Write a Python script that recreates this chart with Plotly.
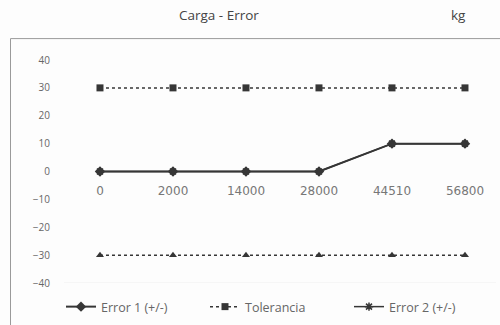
import plotly.graph_objects as go

categories = ["0", "2000", "14000", "28000", "44510", "56800"]
error1 = [0, 0, 0, 0, 10, 10]
tolerancia = [30, 30, 30, 30, 30, 30]
tol_neg = [-30, -30, -30, -30, -30, -30]
error2 = [0, 0, 0, 0, 10, 10]
y_ticks = [40, 30, 20, 10, 0, -10, -20, -30, -40]

LINE = "#363636"
TXT = "#666666"
FONT = "Open Sans, Noto Sans, sans-serif"

fig = go.Figure()
fig.add_trace(go.Scatter(x=categories, y=error1, name="Error 1 (+/-)", mode="lines+markers",
                         line=dict(color=LINE, width=2), marker=dict(symbol="diamond", size=8, color=LINE)))
fig.add_trace(go.Scatter(x=categories, y=tolerancia, name="Tolerancia", mode="lines+markers",
                         line=dict(color=LINE, width=1.5, dash="dot"), marker=dict(symbol="square", size=7, color=LINE)))
fig.add_trace(go.Scatter(x=categories, y=tol_neg, name="-Tolerancia", mode="lines+markers", showlegend=False,
                         line=dict(color=LINE, width=1.5, dash="dot"), marker=dict(symbol="triangle-up", size=7, color=LINE)))
fig.add_trace(go.Scatter(x=categories, y=error2, name="Error 2 (+/-)", mode="lines+markers",
                         line=dict(color=LINE, width=1.5), marker=dict(symbol="asterisk-open", size=7, line=dict(color=LINE, width=1.5))))

fig.update_layout(
    width=500, height=325,
    margin=dict(l=64, r=4, t=60, b=41),
    paper_bgcolor="#fdfdfd", plot_bgcolor="#fdfdfd",
    font=dict(family=FONT, color=TXT, size=9),
    showlegend=True,
    legend=dict(orientation="h", x=(61 - 64) / 432, xanchor="left", y=(284 - 307) / 224, yanchor="middle",
                font=dict(size=12.5, color=TXT), bgcolor="rgba(0,0,0,0)",
                entrywidth=99, entrywidthmode="pixels"),
    xaxis=dict(type="category", range=[-0.493, 5.425], showgrid=False, zeroline=False, showline=False,
               ticks="", anchor="free", position=0.5,
               tickfont=dict(size=12, color="#777777", family="DejaVu Sans, sans-serif"), ticklabelstandoff=10),
    yaxis=dict(range=[-40, 40], tickvals=y_ticks, showgrid=False, zeroline=False, showline=False,
               ticks="", tickfont=dict(size=10, color=TXT), ticklabelstandoff=13),
    shapes=[
        dict(type="rect", xref="paper", yref="paper", x0=(10.5 - 64) / 432, x1=1.05, y0=-0.3, y1=(284 - 38.5) / 224,
             line=dict(color="#9a9a9a", width=1), fillcolor="rgba(0,0,0,0)", layer="below"),
        dict(type="line", xref="paper", yref="y", x0=0.0, x1=1.0, y0=-40, y1=-40,
             line=dict(color="#efefef", width=1), layer="below"),
    ],
    annotations=[
        dict(text="Carga - Error", xref="paper", yref="paper", x=(219 - 64) / 432, y=(284 - 15) / 224,
             showarrow=False, font=dict(size=13.5, color="#444444"), xanchor="center", yanchor="middle"),
        dict(text="kg", xref="paper", yref="paper", x=(458 - 64) / 432, y=(284 - 15) / 224,
             showarrow=False, font=dict(size=13.5, color="#444444"), xanchor="center", yanchor="middle"),
    ],
)

fig.write_html("out.html", config={"displayModeBar": False},
               post_script="document.body.style.margin='0';")
